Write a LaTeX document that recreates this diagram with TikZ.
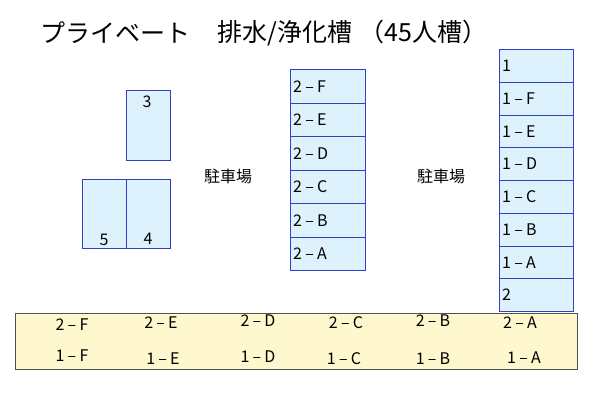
\documentclass[tikz,border=0pt]{standalone}
\usepackage{fontspec}
\setmainfont{Noto Sans CJK JP}
\newfontfamily\lbl[LetterSpace=20]{Noto Sans CJK JP}
\definecolor{boxblue}{HTML}{3040C8}
\definecolor{boxfill}{HTML}{DDF2FD}
\definecolor{bandfill}{HTML}{FFF8CE}
\definecolor{bandline}{HTML}{505050}
\begin{document}
\begin{tikzpicture}[x=1pt,y=-1pt,
  cell/.style={draw=boxblue, fill=boxfill, line width=0.9pt, anchor=north west, inner sep=0pt},
  colcell/.style={cell, minimum width=75pt, minimum height=#1},
  lab/.style={font=\lbl\fontsize{16}{17}\selectfont, inner sep=0pt},
  park/.style={font=\fontsize{16}{17}\selectfont, inner sep=0pt},
  ttl/.style={anchor=west, inner sep=0pt, font=\fontsize{25}{26}\selectfont}
]
\useasboundingbox (0,0) rectangle (600,400);
% title
\node[ttl] (title1) at (40,33) {プライベート};
\node[ttl] (title2) at (217,33) {排水/浄化槽\hspace{0.3em}（45人槽）};
% left boxes
\node[cell, minimum width=44pt, minimum height=70pt] (b3) at (126,90) {};
\node[cell, minimum width=44pt, minimum height=69pt] (b5) at (82,179) {};
\node[cell, minimum width=44pt, minimum height=69pt] (b4) at (126,179) {};
\node[lab] (t3) at (147,102) {3};
\node[lab] (t5) at (104,240) {5};
\node[lab] (t4) at (148,239) {4};
% parking labels
\node[park] (p1) at (228,176) {駐車場};
\node[park] (p2) at (441,176) {駐車場};
% middle column
\foreach \i/\t in {0/2–F,1/2–E,2/2–D,3/2–C,4/2–B,5/2–A}{
  \node[colcell=33.5pt] (m\i) at (290,69+33.5*\i) {};
  \node[lab, anchor=west] (mt\i) at ([xshift=3pt]m\i.west) {\t};
}
% right column
\foreach \i/\t in {0/1,1/1–F,2/1–E,3/1–D,4/1–C,5/1–B,6/1–A,7/2}{
  \node[colcell=32.75pt, minimum width=74pt] (r\i) at (499,49+32.75*\i) {};
  \node[lab, anchor=west] (rt\i) at ([xshift=3pt]r\i.west) {\t};
}
% band
\node[draw=bandline, fill=bandfill, line width=1pt, anchor=north west, minimum width=562pt, minimum height=56pt, inner sep=0pt] (band) at (15,313) {};
\foreach \x/\y/\t [count=\k] in {72/325/2–F,161/323/2–E,258/321/2–D,346/323/2–C,433/321/2–B,520/323/2–A,72/356/1–F,163/359/1–E,258/357/1–D,344/359/1–C,433/359/1–B,524/358/1–A}{
  \node[lab] (bt\k) at (\x,\y) {\t};
}
\end{tikzpicture}
\end{document}
